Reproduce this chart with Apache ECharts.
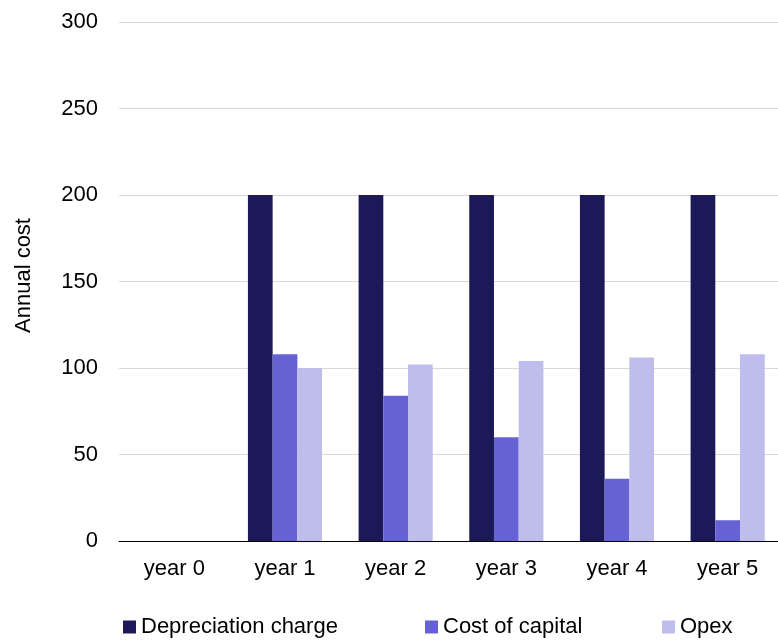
<!DOCTYPE html>
<html>
<head>
<meta charset="utf-8">
<script src="https://cdn.jsdelivr.net/npm/echarts@6/dist/echarts.min.js"></script>
<style>
  html, body { margin: 0; padding: 0; background: #fff; overflow: hidden; }
  /* the plot runs slightly past the right edge of the 778px view */
  #chart { width: 783px; height: 641px; }
</style>
</head>
<body>
<div id="chart"></div>
<script>
// Annual cost breakdown by year
const years = ['year 0', 'year 1', 'year 2', 'year 3', 'year 4', 'year 5'];
const depreciationCharge = [0, 200, 200, 200, 200, 200];
const costOfCapital = [0, 108, 84, 60, 36, 12];
const opex = [0, 100, 102, 104, 106, 108];
const yTicks = [0, 50, 100, 150, 200, 250, 300];

const seriesNames = ['Depreciation charge', 'Cost of capital', 'Opex'];
const seriesColors = ['#1b1958', '#6762d3', '#bfbdec'];
const seriesValues = [depreciationCharge, costOfCapital, opex];

const font = '"Liberation Sans", Arial, sans-serif';
const legendLefts = [123, 425, 662];

const chart = echarts.init(document.getElementById('chart'));
chart.setOption({
  animation: false,
  backgroundColor: '#ffffff',
  color: seriesColors,
  grid: { left: 119, right: 0, top: 22, bottom: 100, containLabel: false },
  legend: seriesNames.map((name, i) => ({
    data: [name],
    left: legendLefts[i],
    top: 616,
    padding: 0,
    itemWidth: 13,
    itemHeight: 13,
    icon: 'rect',
    textStyle: { fontFamily: font, fontSize: 22, color: '#000' }
  })),
  xAxis: {
    type: 'category',
    data: years,
    axisLine: { lineStyle: { color: '#000', width: 1 } },
    axisTick: { show: false },
    axisLabel: { fontFamily: font, fontSize: 22, color: '#000', margin: 17 }
  },
  yAxis: {
    type: 'value',
    min: yTicks[0],
    max: yTicks[yTicks.length - 1],
    interval: yTicks[1] - yTicks[0],
    name: 'Annual cost',
    nameLocation: 'middle',
    nameGap: 84,
    nameTextStyle: { fontFamily: font, fontSize: 22, color: '#000', padding: [0, 0, 0, 12] },
    axisLine: { show: false },
    axisTick: { show: false },
    axisLabel: { fontFamily: font, fontSize: 22, color: '#000', margin: 21 },
    splitLine: { lineStyle: { color: '#d9d9d9', width: 1 } }
  },
  series: seriesNames.map((name, i) => ({
    name: name,
    type: 'bar',
    data: seriesValues[i],
    barGap: '0%',
    barCategoryGap: '33%',
    itemStyle: { color: seriesColors[i] }
  }))
});
</script>
</body>
</html>
